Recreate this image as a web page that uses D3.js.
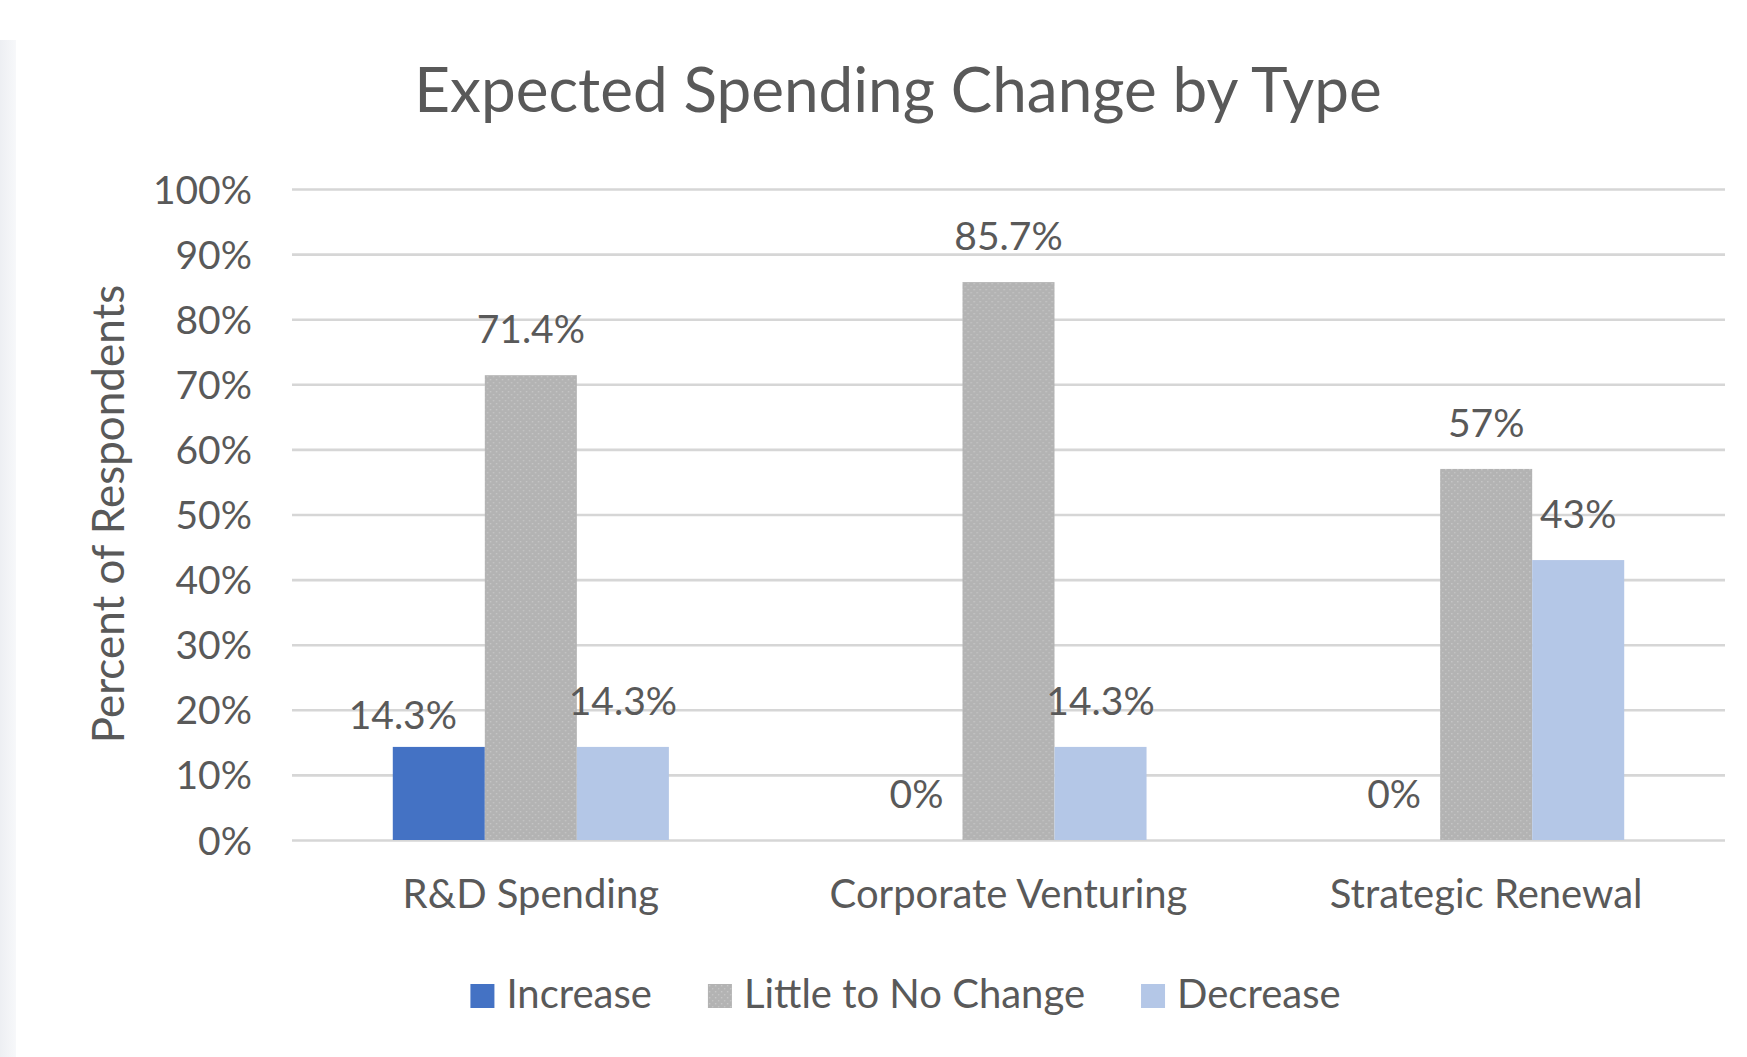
<!DOCTYPE html>
<html>
<head>
<meta charset="utf-8">
<script src="https://cdn.jsdelivr.net/npm/d3@7"></script>
<style>
  html, body { margin: 0; padding: 0; background: #ffffff; }
  svg { display: block; }
  text { font-family: Lato, "Open Sans", sans-serif; fill: #595959; }
</style>
</head>
<body>
<svg id="chart" width="1747" height="1057"></svg>
<script>
// Survey results: expected change in spending, by spending type
const categories = ["R&D Spending", "Corporate Venturing", "Strategic Renewal"];
const seriesNames = ["Increase", "Little to No Change", "Decrease"];
const increase = [14.3, 0, 0];
const littleToNoChange = [71.4, 85.7, 57];
const decrease = [14.3, 14.3, 43];
const labelText = [
  ["14.3%", "71.4%", "14.3%"],
  ["0%", "85.7%", "14.3%"],
  ["0%", "57%", "43%"]
];
const yTicks = [0, 10, 20, 30, 40, 50, 60, 70, 80, 90, 100];
const chartTitle = "Expected Spending Change by Type";
const yAxisTitle = "Percent of Respondents";

const seriesValues = [increase, littleToNoChange, decrease];
const fills = ["#4472C4", "url(#stipple)", "#B4C7E7"];

const W = 1747, H = 1057;
const plot = { left: 292, right: 1725, top: 189, bottom: 840 };

const svg = d3.select("#chart");
const defs = svg.append("defs");

// dotted grey texture for the "little to no change" columns
const pat = defs.append("pattern")
  .attr("id", "stipple").attr("patternUnits", "userSpaceOnUse")
  .attr("width", 6).attr("height", 6);
pat.append("rect").attr("width", 6).attr("height", 6).attr("fill", "#B3B3B3");
pat.append("rect").attr("x", 1).attr("y", 1).attr("width", 1.4).attr("height", 1.4).attr("fill", "#C8C8C8");
pat.append("rect").attr("x", 4).attr("y", 4).attr("width", 1.4).attr("height", 1.4).attr("fill", "#C4C4C4");

// faint shaded strip on the left edge
const edge = defs.append("linearGradient").attr("id", "edge").attr("x1", 0).attr("x2", 1);
edge.append("stop").attr("offset", 0).attr("stop-color", "#EDEFF3");
edge.append("stop").attr("offset", 1).attr("stop-color", "#F7F8FA");
svg.append("rect").attr("x", 0).attr("y", 40).attr("width", 16).attr("height", H - 40).attr("fill", "url(#edge)");

const x0 = d3.scaleBand().domain(categories).range([plot.left, plot.right])
  .paddingInner(0.422).paddingOuter(0.211);
const x1 = d3.scaleBand().domain(seriesNames).range([0, x0.bandwidth()]).padding(0);
const y = d3.scaleLinear().domain([0, 100]).range([plot.bottom, plot.top]);

// gridlines and value axis labels
const yAxis = d3.axisLeft(y).tickValues(yTicks).tickSize(-(plot.right - plot.left)).tickFormat(d => d + "%");
const gy = svg.append("g").attr("transform", `translate(${plot.left},0)`).call(yAxis);
gy.select(".domain").remove();
gy.selectAll(".tick line").attr("stroke", "#D6D6D6").attr("stroke-width", 2.6);
gy.selectAll(".tick text")
  .attr("x", -(plot.left - 252)).attr("dy", null).attr("y", 14)
  .attr("text-anchor", "end").attr("font-size", 39).attr("fill", "#595959");

// columns
const groups = svg.append("g").selectAll("g")
  .data(categories).join("g")
  .attr("transform", d => `translate(${x0(d)},0)`);

groups.each(function(cat, ci) {
  const g = d3.select(this);
  seriesNames.forEach((s, si) => {
    const v = seriesValues[si][ci];
    if (v > 0) {
      g.append("rect")
        .attr("x", x1(s)).attr("width", x1.bandwidth())
        .attr("y", y(v)).attr("height", y(0) - y(v))
        .attr("fill", fills[si]);
    }
  });
});

// value labels (the first one is nudged off its column to keep clear of the neighbour)
const nudge = { "0-0": { dx: -36, dy: 14 } };
groups.each(function(cat, ci) {
  const g = d3.select(this);
  seriesNames.forEach((s, si) => {
    const v = seriesValues[si][ci];
    const n = nudge[ci + "-" + si] || { dx: 0, dy: 0 };
    g.append("text")
      .attr("x", x1(s) + x1.bandwidth() / 2 + n.dx)
      .attr("y", y(v) - 32 + n.dy)
      .attr("text-anchor", "middle")
      .attr("font-size", 39)
      .text(labelText[ci][si]);
  });
});

// category axis labels
const xAxis = d3.axisBottom(x0).tickSize(0).tickPadding(0);
const gx = svg.append("g").attr("transform", `translate(0,${plot.bottom})`).call(xAxis);
gx.select(".domain").remove();
gx.selectAll(".tick text").attr("dy", null).attr("y", 68)
  .attr("font-size", 40).attr("fill", "#595959");

// title
svg.append("text").attr("x", 898).attr("y", 112).attr("text-anchor", "middle")
  .attr("font-size", 62).text(chartTitle);

// y axis title
svg.append("text").attr("transform", "translate(124,514) rotate(-90)")
  .attr("text-anchor", "middle").attr("font-size", 44).text(yAxisTitle);

// legend
const leg = svg.append("g");
const sw = 24, gapText = 12, gapItem = 56;
let cx = 0;
seriesNames.forEach((s, i) => {
  const it = leg.append("g").attr("transform", `translate(${cx},0)`);
  it.append("rect").attr("x", 0).attr("y", 984).attr("width", sw).attr("height", sw).attr("fill", fills[i]);
  const t = it.append("text").attr("x", sw + gapText).attr("y", 1008).attr("font-size", 40).text(s);
  const w = t.node().getComputedTextLength();
  cx += sw + gapText + w + gapItem;
});
const legW = cx - gapItem;
leg.attr("transform", `translate(${905.5 - legW / 2},0)`);
</script>
</body>
</html>
